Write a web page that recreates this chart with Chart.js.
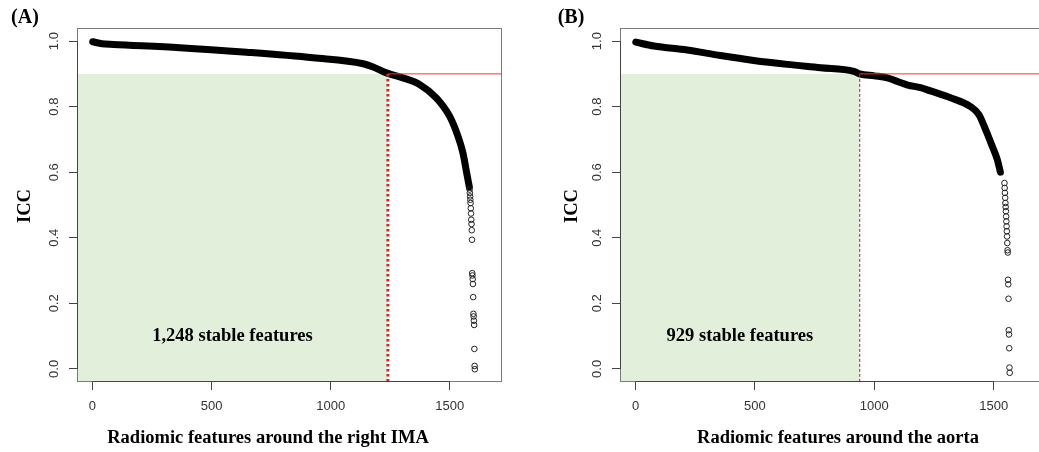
<!DOCTYPE html>
<html>
<head>
<meta charset="utf-8">
<title>ICC of radiomic features</title>
<script src="https://cdn.jsdelivr.net/npm/chart.js@4.4.1/dist/chart.umd.min.js"></script>
<style>
  html, body { margin: 0; padding: 0; background: #fff; overflow: hidden; width: 1039px; height: 452px; }
  canvas { position: absolute; top: 0; }
  #chartA { left: 0; }
  #chartB { left: 520px; }
</style>
</head>
<body>
<canvas id="chartA" width="520" height="452"></canvas>
<canvas id="chartB" width="540" height="452"></canvas>
<script>
// Axis settings shared by both panels
const xMin = -65, xMax = 1719;
const yMin = -0.04, yMax = 1.04;
const xTickValues = [0, 500, 1000, 1500];
const yTickValues = [0, 0.2, 0.4, 0.6, 0.8, 1.0];
const iccCut = 0.9;

// (A) right IMA: dense part of the sorted ICC curve
const aBandX = [1, 40, 88, 367, 647, 926, 1136, 1178, 1234, 1303, 1373, 1443, 1499, 1534, 1555, 1572, 1582];
const aBandY = [0.998, 0.992, 0.990, 0.980, 0.966, 0.949, 0.931, 0.921, 0.903, 0.888, 0.868, 0.827, 0.771, 0.710, 0.659, 0.593, 0.555];
// (A) separated points at the tail
const aTailX = [1583, 1584, 1585, 1586, 1587, 1588, 1589, 1590, 1591, 1592, 1593, 1594, 1595, 1596, 1597, 1598, 1599, 1600, 1601, 1602, 1603, 1604, 1605];
const aTailY = [0.547, 0.537, 0.526, 0.516, 0.506, 0.490, 0.474, 0.455, 0.442, 0.423, 0.394, 0.292, 0.285, 0.274, 0.259, 0.219, 0.168, 0.160, 0.147, 0.134, 0.061, 0.009, -0.001];
const aStable = 1240;

// (B) aorta
const bBandX = [1, 77, 216, 356, 495, 635, 775, 914, 939, 1000, 1054, 1100, 1140, 1194, 1235, 1319, 1403, 1438, 1466, 1494, 1515, 1528];
const bBandY = [0.997, 0.985, 0.973, 0.956, 0.941, 0.929, 0.919, 0.908, 0.900, 0.894, 0.888, 0.876, 0.866, 0.858, 0.848, 0.827, 0.800, 0.776, 0.730, 0.679, 0.639, 0.600];
const bTailX = [1545, 1546, 1547, 1548, 1549, 1550, 1551, 1552, 1553, 1554, 1555, 1556, 1557, 1558, 1559, 1560, 1561, 1562, 1563, 1564, 1565, 1566, 1567];
const bTailY = [0.567, 0.552, 0.537, 0.522, 0.506, 0.494, 0.481, 0.465, 0.450, 0.435, 0.420, 0.404, 0.384, 0.362, 0.355, 0.272, 0.258, 0.214, 0.118, 0.105, 0.063, 0.004, -0.012];
const bStable = 939;

function toPoints(xs, ys) {
  return xs.map((x, i) => ({ x: x, y: ys[i] }));
}

// Box, panel tag, axis titles and the note inside the green area
const panelText = {
  id: "panelText",
  afterDraw(chart, args, o) {
    const { ctx, chartArea: a, scales } = chart;
    const sx = scales.x, sy = scales.y;
    ctx.save();
    const l = Math.round(a.left) + 0.5, t = Math.round(a.top) + 0.5;
    const r = Math.round(a.right) - 0.5, b = Math.round(a.bottom) - 0.5;
    ctx.strokeStyle = "#7a7a7a";
    ctx.lineWidth = 1;
    ctx.strokeRect(l, t, r - l, b - t);
    // axis lines between first and last tick
    ctx.strokeStyle = "#444";
    ctx.beginPath();
    ctx.moveTo(sx.getPixelForValue(xTickValues[0]), b);
    ctx.lineTo(sx.getPixelForValue(xTickValues[xTickValues.length - 1]), b);
    ctx.moveTo(l, sy.getPixelForValue(yTickValues[0]));
    ctx.lineTo(l, sy.getPixelForValue(yTickValues[yTickValues.length - 1]));
    ctx.stroke();

    ctx.fillStyle = "#000";
    ctx.textAlign = "center";
    ctx.textBaseline = "middle";
    ctx.font = 'bold 20px "Liberation Serif"';
    ctx.fillText(o.tag, o.tagX, 18);
    ctx.font = 'bold 18.5px "Liberation Serif"';
    ctx.fillText(o.xTitle, o.xTitleX, 438);
    ctx.fillText(o.note, sx.getPixelForValue((xMin + o.cut) / 2), sy.getPixelForValue(0.1));
    ctx.translate(o.yTitleX, 206);
    ctx.rotate(-Math.PI / 2);
    ctx.fillText("ICC", 0, 0);
    ctx.restore();
  },
};

function buildPanel(canvasId, p) {
  const con = document.getElementById(canvasId);
  return new Chart(con, {
    type: "scatter",
    data: {
      datasets: [
        {
          label: "Tail",
          data: toPoints(p.tailX, p.tailY),
          pointRadius: 2.8,
          pointHoverRadius: 2.8,
          pointBorderWidth: 1,
          pointBorderColor: "#222",
          pointBackgroundColor: "rgba(0,0,0,0)",
          order: 0,
        },
        {
          label: "Cut line",
          type: "line",
          data: [{ x: p.cut, y: iccCut }, { x: xMax, y: iccCut }],
          borderColor: "#ff3030",
          borderWidth: 1,
          pointRadius: 0,
          order: 1,
        },
        {
          label: "Cut index",
          type: "line",
          data: [{ x: p.cut, y: iccCut }, { x: p.cut, y: yMin }],
          borderColor: p.dashColor,
          borderWidth: p.dashWidth,
          borderDash: p.dash,
          pointRadius: 0,
          order: 1,
        },
        {
          label: "ICC",
          type: "line",
          data: toPoints(p.bandX, p.bandY),
          borderColor: "#000",
          borderWidth: 7,
          borderCapStyle: "round",
          borderJoinStyle: "round",
          cubicInterpolationMode: "monotone",
          pointRadius: 0,
          order: 2,
        },
        {
          label: "Stable",
          type: "line",
          data: [{ x: xMin, y: iccCut }, { x: p.cut, y: iccCut }],
          fill: "start",
          backgroundColor: "#e2efda",
          borderWidth: 0,
          pointRadius: 0,
          order: 3,
        },
      ],
    },
    options: {
      responsive: false,
      animation: false,
      layout: { padding: { left: 0, top: 28, right: p.padRight, bottom: 0 } },
      scales: {
        x: {
          type: "linear",
          min: xMin,
          max: xMax,
          afterBuildTicks: (s) => { s.ticks = xTickValues.map((v) => ({ value: v })); },
          afterFit: (s) => { s.height = 70; },
          grid: { drawOnChartArea: false, drawTicks: true, tickLength: 8, tickColor: "#444" },
          border: { display: false },
          ticks: {
            color: "#333",
            font: { family: "Liberation Sans", size: 13 },
            padding: 9,
            maxRotation: 0,
            callback: (v) => String(v),
          },
        },
        y: {
          type: "linear",
          min: yMin,
          max: yMax,
          afterBuildTicks: (s) => { s.ticks = yTickValues.map((v) => ({ value: v })); },
          afterFit: (s) => { s.width = p.axisWidth; },
          grid: { drawOnChartArea: false, drawTicks: true, tickLength: 8, tickColor: "#444" },
          border: { display: false },
          ticks: {
            color: "#333",
            font: { family: "Liberation Sans", size: 13 },
            minRotation: 90,
            maxRotation: 90,
            crossAlign: "center",
            padding: 6,
            callback: (v) => Number(v).toFixed(1),
          },
        },
      },
      plugins: {
        legend: { display: false },
        tooltip: { enabled: false },
        panelText: p.text,
      },
    },
    plugins: [panelText],
  });
}

buildPanel("chartA", {
  bandX: aBandX, bandY: aBandY, tailX: aTailX, tailY: aTailY,
  cut: aStable,
  dash: [2.5, 2.5], dashWidth: 3, dashColor: "#cc2a2e",
  axisWidth: 77, padRight: 18,
  text: { tag: "(A)", tagX: 25, xTitle: "Radiomic features around the right IMA", xTitleX: 268, yTitleX: 25, note: "1,248 stable features", cut: aStable },
});

buildPanel("chartB", {
  bandX: bBandX, bandY: bBandY, tailX: bTailX, tailY: bTailY,
  cut: bStable,
  dash: [3, 2], dashWidth: 1, dashColor: "#b01e22",
  axisWidth: 100, padRight: 14,
  text: { tag: "(B)", tagX: 51, xTitle: "Radiomic features around the aorta", xTitleX: 318, yTitleX: 52, note: "929 stable features", cut: bStable },
});
</script>
</body>
</html>
